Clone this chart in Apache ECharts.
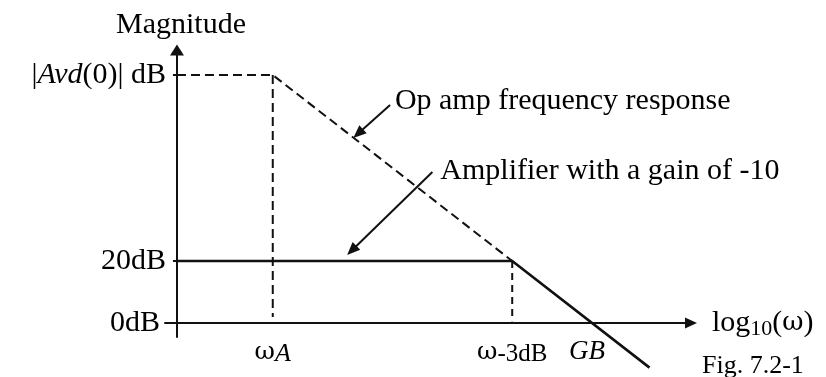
<!DOCTYPE html>
<html>
<head>
<meta charset="utf-8">
<script src="https://cdn.jsdelivr.net/npm/echarts@6/dist/echarts.min.js"></script>
<style>
  html, body { margin: 0; padding: 0; background: #fff; }
  #chart { width: 826px; height: 377px; }
</style>
</head>
<body>
<div id="chart"></div>
<script>
// Bode magnitude sketch: x is log10(ω) in decades, y is gain in dB.

// Axis tick positions and their labels
const xTickValues = [1.2, 4.2, 5.2];              // ωA, ω-3dB, GB
const xTickLabels = ['{w|ω}{sa|A}', '{w|ω}{sb|-3dB}', '{gb|GB}'];
const yTickValues = [0, 20, 80];                  // 0dB, 20dB, |Avd(0)| dB
const yTickLabels = ['{z|0dB}', '20dB', '|{it|Avd}(0)| dB'];

// Op amp open-loop response (dashed): flat at |Avd(0)|, then -20 dB/decade
const opAmpX = [0, 1.2, 4.2];
const opAmpDb = [80, 80, 20];

// Closed-loop amplifier with gain of -10 (solid): 20 dB, then follows the op amp roll-off
const ampX = [0, 4.2, 5.92];
const ampDb = [20, 20, -14.4];

// Dashed drop lines at the two corner frequencies
const dropAX = [1.2, 1.2];
const dropADb = [80, 1.9];
const drop3X = [4.2, 4.2];
const drop3Db = [20, 0.6];

// Callouts: text anchors and pointer arrows (data units)
const noteText = ['Op amp frequency response', 'Amplifier with a gain of -10'];
const noteAt = [[2.73, 71.6], [3.30, 49.1]];
const pointerFrom = [[2.67, 70.3], [3.20, 48.7]];
const pointerTo = [[2.27, 61.1], [2.19, 23.4]];

const zip = (xs, ys) => xs.map((x, i) => [x, ys[i]]);
const SERIF = '"Liberation Serif", "Times New Roman", serif';
const GREEK = '"DejaVu Serif", serif';
const INK = '#111';

const chart = echarts.init(document.getElementById('chart'));

chart.setOption({
  animation: false,
  backgroundColor: '#fff',
  title: {
    text: 'Fig. 7.2-1',
    left: 702, top: 353, padding: 0,
    textStyle: { fontFamily: SERIF, fontSize: 26, fontWeight: 'normal', color: '#000' }
  },
  grid: { left: 165, right: 135, top: 50, bottom: 40, containLabel: false, outerBoundsMode: 'none' },
  xAxis: {
    type: 'value',
    min: -0.15, max: 6.44,
    splitLine: { show: false },
    axisLine: {
      onZero: true,
      symbol: ['none', 'triangle'],
      symbolSize: [11, 12],
      lineStyle: { color: INK, width: 2 }
    },
    axisTick: { show: false },
    axisLabel: {
      customValues: xTickValues,
      margin: 0,
      color: '#000',
      fontFamily: SERIF,
      formatter: v => xTickLabels[xTickValues.indexOf(v)],
      rich: {
        w: { fontFamily: GREEK, fontSize: 25, color: '#000', lineHeight: 30 },
        sa: { fontFamily: SERIF, fontSize: 26, fontStyle: 'italic', color: '#000', lineHeight: 24, verticalAlign: 'bottom' },
        sb: { fontFamily: SERIF, fontSize: 25, color: '#000', lineHeight: 24, verticalAlign: 'bottom' },
        gb: { fontFamily: SERIF, fontSize: 27, fontStyle: 'italic', color: '#000', lineHeight: 30, padding: [0, 10, 0, 0] }
      }
    },
    name: '{n|log}{s|10}{n|(}{g|ω}{n|)}',
    nameLocation: 'end',
    nameGap: 21,
    nameTextStyle: {
      rich: {
        n: { fontFamily: SERIF, fontSize: 30, color: '#000', lineHeight: 34 },
        g: { fontFamily: GREEK, fontSize: 26, color: '#000', lineHeight: 34 },
        s: { fontFamily: SERIF, fontSize: 22, color: '#000', lineHeight: 20, verticalAlign: 'bottom' }
      }
    }
  },
  yAxis: {
    type: 'value',
    min: -4.52, max: 88.06,
    splitLine: { show: false },
    axisLine: {
      onZero: true,
      symbol: ['none', 'triangle'],
      symbolSize: [14, 11],
      lineStyle: { color: INK, width: 2 }
    },
    axisTick: { show: true, customValues: [20, 80], length: 4, lineStyle: { color: INK, width: 2 } },
    axisLabel: {
      customValues: yTickValues,
      margin: -1,
      color: '#000',
      fontFamily: SERIF,
      fontSize: 30,
      formatter: v => yTickLabels[yTickValues.indexOf(v)],
      rich: {
        it: { fontFamily: SERIF, fontSize: 30, fontStyle: 'italic', color: '#000' },
        z: { fontFamily: SERIF, fontSize: 30, color: '#000', padding: [0, 6, 0, 0] }
      }
    },
    name: 'Magnitude',
    nameLocation: 'end',
    nameGap: 10,
    nameTextStyle: { fontFamily: SERIF, fontSize: 30, color: '#000', padding: [0, 0, 0, 8] }
  },
  series: [
    {
      name: 'Op amp',
      type: 'line',
      data: zip(opAmpX, opAmpDb),
      symbol: 'none',
      lineStyle: { color: INK, width: 2, type: [9, 5] },
      silent: true,
      z: 3
    },
    {
      name: 'Amplifier',
      type: 'line',
      data: zip(ampX, ampDb),
      symbol: 'none',
      clip: false,
      lineStyle: { color: INK, width: 2.6 },
      silent: true,
      z: 4,
      markLine: {
        silent: true,
        symbol: ['none', 'triangle'],
        symbolSize: [11, 13],
        lineStyle: { color: INK, width: 2, type: 'solid' },
        label: { show: false },
        data: pointerFrom.map((p, i) => [{ coord: p }, { coord: pointerTo[i] }])
      },
      markPoint: {
        silent: true,
        symbol: 'circle',
        symbolSize: 0,
        label: {
          show: true,
          position: 'right',
          distance: 0,
          fontFamily: SERIF,
          fontSize: 30,
          color: '#000',
          formatter: p => p.name
        },
        data: noteAt.map((c, i) => ({ name: noteText[i], coord: c }))
      }
    },
    {
      name: 'ωA drop',
      type: 'line',
      data: zip(dropAX, dropADb),
      symbol: 'none',
      lineStyle: { color: INK, width: 2, type: [9, 5] },
      silent: true
    },
    {
      name: 'ω-3dB drop',
      type: 'line',
      data: zip(drop3X, drop3Db),
      symbol: 'none',
      lineStyle: { color: INK, width: 2, type: [7, 5] },
      silent: true
    }
  ]
});
</script>
</body>
</html>
